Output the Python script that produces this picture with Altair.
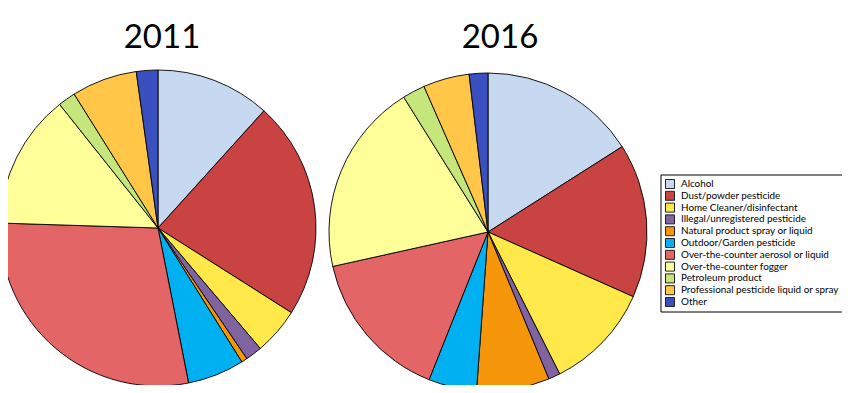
import altair as alt
import pandas as pd

categories = [
    "Alcohol",
    "Dust/powder pesticide",
    "Home Cleaner/disinfectant",
    "Illegal/unregistered pesticide",
    "Natural product spray or liquid",
    "Outdoor/Garden pesticide",
    "Over-the-counter aerosol or liquid",
    "Over-the-counter fogger",
    "Petroleum product",
    "Professional pesticide liquid or spray",
    "Other",
]
share_2011 = [11.7, 22.3, 4.8, 1.7, 0.6, 5.8, 28.6, 13.8, 1.8, 6.7, 2.2]
share_2016 = [16.0, 15.7, 10.9, 1.2, 7.4, 4.9, 15.5, 19.6, 2.3, 4.7, 1.9]
years = ["2011", "2016"]
colors = [
    "#C6D9F0", "#C84341", "#FFE94A", "#8064A2", "#F5960B", "#00B0F0",
    "#E46565", "#FFFF99", "#C4E67A", "#FFC647", "#3B50C0",
]

df11 = pd.DataFrame({"category": categories, "share": share_2011, "order": list(range(len(categories)))})
df16 = pd.DataFrame({"category": categories, "share": share_2016, "order": list(range(len(categories)))})
dfleg = pd.DataFrame({"category": categories})

color_scale = alt.Scale(domain=categories, range=colors)
row_scale = alt.Scale(type="point", domain=categories, range=[176, 294], padding=0)


def pie(df, cx, cy, r):
    return alt.Chart(df).mark_arc(outerRadius=r, stroke="black", strokeWidth=0.9).encode(
        theta=alt.Theta("share:Q", stack=True),
        order=alt.Order("order:Q"),
        color=alt.Color("category:N", scale=color_scale, legend=None),
        x=alt.value(cx), y=alt.value(cy),
    )


def title(txt, cx):
    return alt.Chart(pd.DataFrame({"t": [txt]})).mark_text(
        font="Lato", fontSize=33, color="black", baseline="alphabetic", align="center"
    ).encode(text="t:N", x=alt.value(cx), y=alt.value(40))


legend_box = alt.Chart(pd.DataFrame({"k": [0]})).mark_rect(
    fill="white", stroke="black", strokeWidth=1
).encode(x=alt.value(653), x2=alt.value(839), y=alt.value(167), y2=alt.value(304))

legend_sym = alt.Chart(dfleg).mark_square(size=81, stroke="#222222", strokeWidth=1, opacity=1).encode(
    x=alt.value(662),
    y=alt.Y("category:N", scale=row_scale, axis=None),
    color=alt.Color("category:N", scale=color_scale, legend=None),
)

legend_txt = alt.Chart(dfleg).mark_text(
    font="Lato", fontSize=9.9, color="black", align="left", baseline="middle"
).encode(
    x=alt.value(673),
    y=alt.Y("category:N", scale=row_scale, axis=None),
    text="category:N",
)

chart = alt.layer(
    pie(df11, 150, 220, 158),
    pie(df16, 480, 224, 159),
    title(years[0], 154),
    title(years[1], 492),
    legend_box,
    legend_sym,
    legend_txt,
).resolve_scale(theta="independent").properties(
    width=834, height=377, autosize=alt.AutoSizeParams(type="none"), padding=0,
).configure_view(stroke=None)

chart.save("out.html", embed_options={"renderer": "svg", "actions": False})
